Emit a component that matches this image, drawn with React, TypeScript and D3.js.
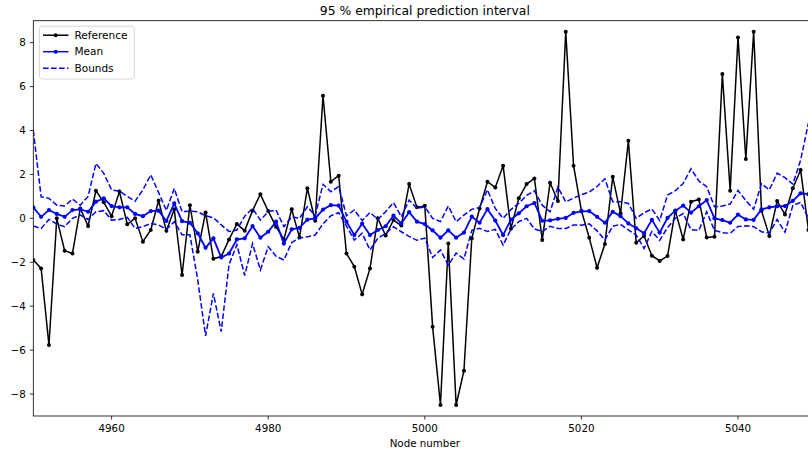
import React from "react";
import * as d3 from "d3";

// Node numbers covered by the window
const firstNode = 4950;
const nodeCount = 100;

// Observed reference signal per node
const reference = [
  -1.9, -2.28, -5.77, 0.0, -1.47, -1.6, 0.45, -0.35, 1.26, 0.73,
  0.1, 1.22, -0.27, 0.0, -1.06, -0.53, 0.8, -0.57, 0.41, -2.58,
  0.6, -1.52, 0.27, -1.84, -1.74, -0.96, -0.26, -0.56, 0.35, 1.1,
  0.33, -0.38, -0.96, 0.41, -0.87, 1.37, -0.11, 5.58, 1.67, 1.94,
  -1.6, -2.2, -3.46, -2.28, 0.0, -0.78, -0.08, -0.33, 1.56, 0.5,
  0.57, -4.94, -8.5, -1.14, -8.5, -6.94, -0.91, 0.45, 1.67, 1.41,
  2.4, -0.47, 0.91, 1.56, 1.82, -0.99, 1.62, 0.79, 8.5, 2.4,
  0.35, -0.88, -2.25, -1.17, 1.89, 0.23, 3.53, -1.11, -0.8, -1.7,
  -1.94, -1.72, 0.35, -0.96, 0.76, 0.86, -0.87, -0.84, 6.57, 1.26,
  8.24, 2.7, 8.5, 0.35, -0.8, 0.79, 0.18, 1.37, 2.2, -0.53,
];

// Mean of the predictive samples
const meanValues = [
  0.5, 0.07, 0.38, 0.2, 0.07, 0.38, 0.41, 0.3, 0.76, 0.91,
  0.56, 0.5, 0.5, 0.2, 0.1, 0.33, 0.35, -0.12, 0.68, -0.13,
  -0.2, -0.68, -1.34, -0.91, -1.78, -1.6, -0.96, -0.91, -0.35, -0.88,
  -0.61, -0.15, -1.15, -0.5, -0.43, -0.06, 0.0, 0.4, 0.6, 0.58,
  -0.15, -0.76, -0.24, -0.76, -0.53, -0.36, 0.12, -0.23, 0.28, -0.15,
  -0.26, -0.55, -0.88, -0.55, -0.88, -0.65, 0.08, -0.2, 0.42, -0.1,
  -0.76, -0.06, 0.23, 0.55, 0.7, -0.11, -0.09, -0.02, 0.02, 0.25,
  0.32, 0.33, 0.07, -0.2, 0.3, 0.1, -0.23, -0.45, -0.68, -0.07,
  -0.65, 0.02, 0.35, 0.58, 0.26, 0.55, 0.83, 0.0, -0.08, -0.2,
  0.17, -0.05, -0.07, 0.41, 0.5, 0.55, 0.56, 0.8, 1.14, 1.1,
];

// Upper 97.5 % empirical bound
const upperBound = [
  4.0, 0.98, 0.91, 0.6, 0.56, 0.88, 0.6, 1.0, 2.5, 2.05,
  1.29, 1.24, 1.0, 0.78, 1.3, 1.98, 1.18, 0.36, 1.36, 0.3,
  0.33, 0.3, 0.12, 0.03, -0.3, -0.6, -0.53, 0.1, 0.45, -0.08,
  0.3, 0.38, -0.38, 0.07, 0.0, 0.53, 0.12, 1.55, 1.21, 1.45,
  0.12, 0.38, -0.1, 0.27, -0.05, 0.3, 0.72, 0.07, 0.83, 0.45,
  0.53, 0.0, -0.15, 0.56, -0.15, 0.15, 0.41, 0.5, 1.3, 0.45,
  0.0, 0.4, 0.68, 1.05, 1.25, 0.6, 0.3, 1.42, 0.75, 0.92,
  1.08, 1.2, 1.45, 1.8, 0.76, 0.76, 0.68, 0.0, 0.25, 0.43,
  -0.1, 1.06, 1.26, 1.59, 2.26, 1.7, 1.44, 0.53, 0.56, 0.65,
  1.27, 0.81, 0.41, 1.58, 1.3, 2.06, 1.85, 1.56, 2.65, 4.35,
];

// Lower 2.5 % empirical bound
const lowerBound = [
  -0.35, -0.46, -0.05, -0.26, -0.38, 0.0, 0.15, -0.05, 0.3, 0.35,
  -0.08, -0.05, 0.05, -0.46, -0.38, -0.23, -0.3, -0.5, -0.15, -0.75,
  -0.75, -2.8, -5.35, -3.42, -5.16, -2.1, -1.2, -2.6, -1.15, -2.35,
  -1.29, -1.72, -1.9, -1.1, -0.9, -0.84, -0.76, -0.25, 0.12, 0.26,
  -0.35, -0.99, -0.68, -1.44, -0.91, -0.68, -0.38, -0.61, -0.82, -1.0,
  -0.9, -1.78, -1.44, -2.13, -1.58, -1.85, -0.55, -0.45, -0.6, -0.5,
  -1.22, -0.5, -0.15, 0.0, -0.48, -0.6, -0.36, -0.46, -0.46, -0.3,
  -0.31, -0.25, -0.57, -0.98, -0.36, -0.27, -0.53, -0.76, -1.37, -0.6,
  -1.0, -0.42, 0.0, 0.22, -0.52, -0.55, 0.3, -0.55, -0.65, -0.68,
  -0.37, -0.34, -0.38, -0.61, -0.67, -0.05, -0.63, 0.58, 0.73, 0.0,
];

const xTicks = [4960, 4980, 5000, 5020, 5040];
const yTicks = [-8, -6, -4, -2, 0, 2, 4, 6, 8];
const xDomain: [number, number] = [4950, 5050];
const yDomain: [number, number] = [-9, 9];

const titleText = "95 % empirical prediction interval";
const xLabelText = "Node number";
const legendLabels = ["Reference", "Mean", "Bounds"];

const W = 808;
const H = 454;
const plot = { left: 33.3, top: 20.7, right: 816.3, bottom: 416 };
const FONT = "'DejaVu Sans', sans-serif";
const BLUE = "#0000ff";
const DASH = "5.6,2.4";

export default function App() {
  const nodes = d3.range(firstNode, firstNode + nodeCount);
  const x = d3.scaleLinear().domain(xDomain).range([plot.left, plot.right]);
  const y = d3.scaleLinear().domain(yDomain).range([plot.bottom, plot.top]);

  const line = d3
    .line<number>()
    .x((_, i) => x(nodes[i]))
    .y((v) => y(v));

  const fmt = (v: number) => (v < 0 ? "\u2212" + Math.abs(v) : String(v));

  const legendRows = [
    { label: legendLabels[0], color: "#000000", dash: undefined, dot: true },
    { label: legendLabels[1], color: BLUE, dash: undefined, dot: true },
    { label: legendLabels[2], color: BLUE, dash: DASH, dot: false },
  ];

  return (
    <svg
      width={W}
      height={H}
      style={{ position: "absolute", left: 0, top: 0, background: "#ffffff" }}
      fontFamily={FONT}
    >
      <defs>
        <clipPath id="plot-area">
          <rect
            x={plot.left}
            y={plot.top}
            width={plot.right - plot.left}
            height={plot.bottom - plot.top}
          />
        </clipPath>
      </defs>
      <rect x={0} y={0} width={W} height={H} fill="#ffffff" />

      <g clipPath="url(#plot-area)">
        <path d={line(reference) ?? ""} fill="none" stroke="#000000" strokeWidth={1.5} />
        {reference.map((v, i) => (
          <circle key={"r" + i} cx={x(nodes[i])} cy={y(v)} r={2} fill="#000000" />
        ))}
        <path d={line(meanValues) ?? ""} fill="none" stroke={BLUE} strokeWidth={1.8} />
        {meanValues.map((v, i) => (
          <circle key={"m" + i} cx={x(nodes[i])} cy={y(v)} r={2.1} fill={BLUE} />
        ))}
        <path
          d={line(upperBound) ?? ""}
          fill="none"
          stroke={BLUE}
          strokeWidth={1.5}
          strokeDasharray={DASH}
        />
        <path
          d={line(lowerBound) ?? ""}
          fill="none"
          stroke={BLUE}
          strokeWidth={1.5}
          strokeDasharray={DASH}
        />
      </g>

      {/* axes frame */}
      <rect
        x={plot.left}
        y={plot.top}
        width={plot.right - plot.left}
        height={plot.bottom - plot.top}
        fill="none"
        stroke="#000000"
        strokeWidth={0.8}
      />

      {/* x axis */}
      {xTicks.map((t) => (
        <g key={"xt" + t}>
          <line x1={x(t)} x2={x(t)} y1={plot.bottom} y2={plot.bottom + 3.5} stroke="#000000" strokeWidth={0.8} />
          <text x={x(t)} y={431.6} fontSize={10.3} textAnchor="middle" fill="#000000">
            {t}
          </text>
        </g>
      ))}
      {/* y axis */}
      {yTicks.map((t) => (
        <g key={"yt" + t}>
          <line x1={plot.left - 3.5} x2={plot.left} y1={y(t)} y2={y(t)} stroke="#000000" strokeWidth={0.8} />
          <text x={25.8} y={y(t) + 3.7} fontSize={10.3} textAnchor="end" fill="#000000">
            {fmt(t)}
          </text>
        </g>
      ))}

      <text x={(plot.left + plot.right) / 2} y={446.8} fontSize={10.3} textAnchor="middle" fill="#000000">
        {xLabelText}
      </text>
      <text x={(plot.left + plot.right) / 2} y={14.6} fontSize={12.4} textAnchor="middle" fill="#000000">
        {titleText}
      </text>

      {/* legend */}
      <g>
        <rect
          x={39.5}
          y={26.2}
          width={94.8}
          height={52.8}
          rx={2.5}
          fill="#ffffff"
          fillOpacity={0.8}
          stroke="#cccccc"
          strokeWidth={0.8}
        />
        {legendRows.map((row, i) => {
          const cy = 35.2 + i * 16.5;
          return (
            <g key={"lg" + i}>
              <line
                x1={43}
                x2={68.5}
                y1={cy}
                y2={cy}
                stroke={row.color}
                strokeWidth={1.5}
                strokeDasharray={row.dash}
              />
              {row.dot && <circle cx={55.7} cy={cy} r={2} fill={row.color} />}
              <text x={74.5} y={cy + 3.7} fontSize={10.5} fill="#000000">
                {row.label}
              </text>
            </g>
          );
        })}
      </g>
    </svg>
  );
}
